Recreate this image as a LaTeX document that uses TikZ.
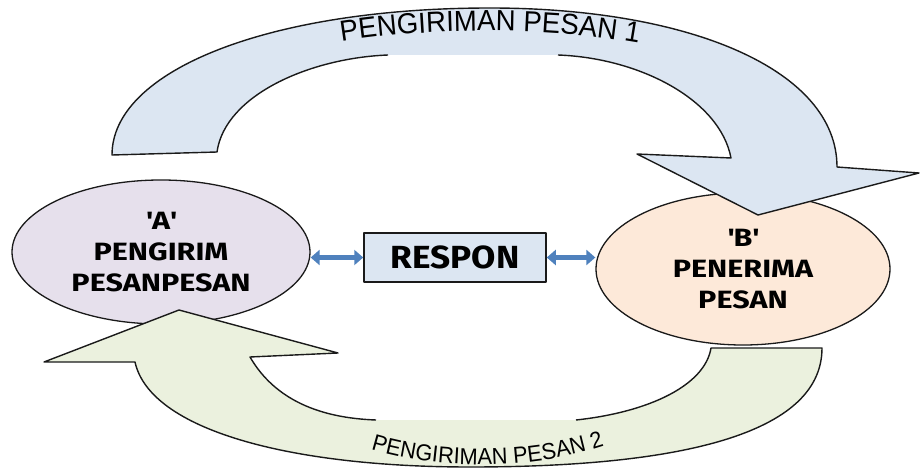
\documentclass[tikz,border=0pt]{standalone}
\usepackage{fontspec}
\setmainfont{Fira Sans}
\newfontfamily\wideface[FakeStretch=1.22]{Fira Sans}
\newfontfamily\respface[FakeStretch=1.1]{Fira Sans}
\newfontfamily\arcfont[FakeStretch=0.95]{Liberation Sans}
\usetikzlibrary{shapes.geometric,arrows.meta,decorations.text}
\definecolor{topfill}{HTML}{DCE6F2}
\definecolor{botfill}{HTML}{EBF1DE}
\definecolor{afill}{HTML}{E6E0EC}
\definecolor{bfill}{HTML}{FDE9D9}
\definecolor{boxfill}{HTML}{DCE6F2}
\definecolor{arrowc}{HTML}{4F81BD}
\definecolor{linec}{HTML}{1A1A1A}
\begin{document}
\begin{tikzpicture}[x=1pt,y=-1pt,line join=round,
  oval/.style={ellipse, draw=linec, line width=1.3pt, inner sep=0pt, align=center,
    font=\wideface\bfseries\fontsize{25}{31}\selectfont},
  respbox/.style={draw=linec, line width=1.5pt, fill=boxfill, inner sep=0pt,
    font=\respface\bfseries\fontsize{32}{32}\selectfont},
  bigarrow/.style={draw=linec, line width=1.4pt},
  dblarrow/.style={draw=arrowc, line width=5.5pt,
    {Triangle[length=9pt,width=15pt]}-{Triangle[length=9pt,width=15pt]}},
  arctext/.style={decorate, decoration={text along path, text align=center}}
]
\useasboundingbox (0,0) rectangle (921,468);

% ellipses
\node[oval, fill=afill, minimum width=298pt, minimum height=144pt] (A) at (161,252)
  {\textquotesingle A\textquotesingle\\PENGIRIM\\PESANPESAN};
\node[oval, fill=bfill, minimum width=294pt, minimum height=152pt] (B) at (743,269)
  {\textquotesingle B\textquotesingle\\PENERIMA\\PESAN};

% response box
\node[respbox, minimum width=182pt, minimum height=49pt] (R) at (455,257.5) {RESPON};

% top curved arrow (PENGIRIMAN PESAN 1)
\draw[bigarrow, fill=topfill]
  (558,55) .. controls (640,58) and (720,100) .. (731,158)
  -- (637,154) -- (758,215) -- (919,173) -- (837,167)
  .. controls (837,70) and (690,8) .. (490,8)
  .. controls (270,8) and (112,70) .. (112,155)
  -- (217,152)
  .. controls (225,95) and (310,58) .. (388,55);

% bottom curved arrow (PENGIRIMAN PESAN 2)
\draw[bigarrow, fill=botfill]
  (576,420) .. controls (650,412) and (705,385) .. (711,348)
  -- (822,348)
  .. controls (822,440) and (660,467) .. (470,467)
  .. controls (290,467) and (150,430) .. (135,362)
  -- (44,362) -- (179,310) -- (338,353) -- (250,357)
  .. controls (275,400) and (320,418) .. (376,420);

% curved labels
\path[arctext, decoration={text={|\arcfont\fontsize{29}{29}\selectfont|PENGIRIMAN PESAN 1}}]
  (322,45) .. controls (420,26) and (560,26) .. (658,47);
\path[arctext, decoration={text={|\arcfont\fontsize{23}{23}\selectfont|PENGIRIMAN PESAN 2}}]
  (355,444) .. controls (430,472) and (540,472) .. (620,440);

% response connectors
\draw[dblarrow] (R.west) -- (R.west -| A.east);
\draw[dblarrow] (R.east) -- (R.east -| B.west);
\end{tikzpicture}
\end{document}
